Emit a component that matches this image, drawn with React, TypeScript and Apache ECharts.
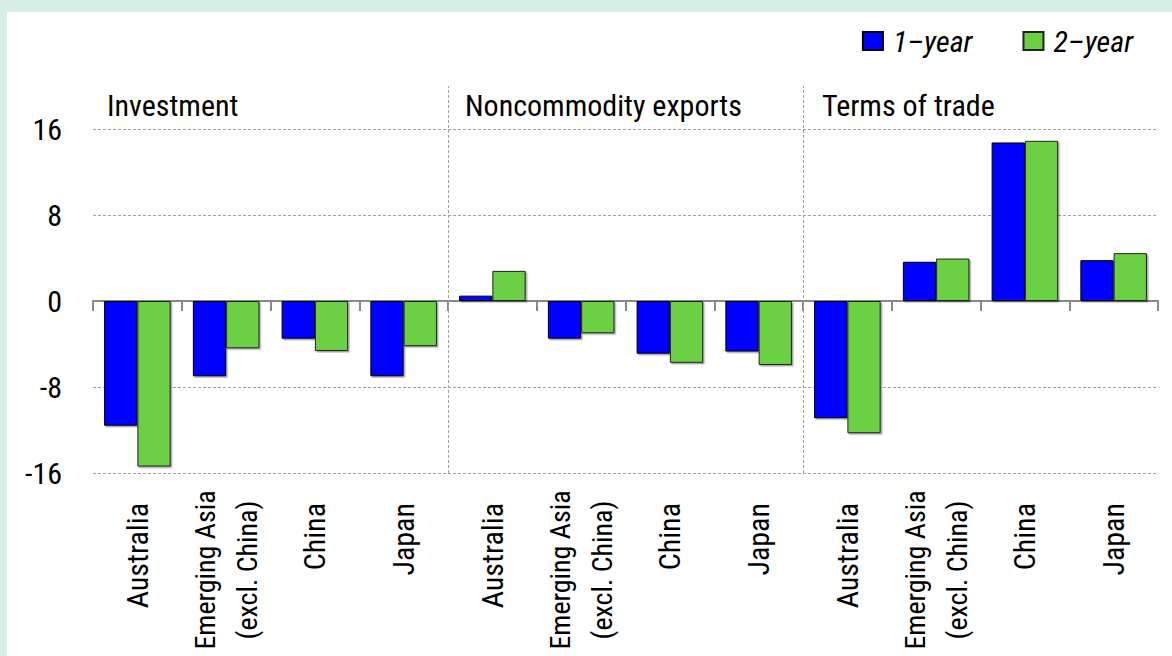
import React, { useEffect, useRef } from "react";
import * as echarts from "echarts";

const groups = ["Investment", "Noncommodity exports", "Terms of trade"];
const countries = ["Australia", "Emerging Asia\n(excl. China)", "China", "Japan"];
const seriesNames = ["1–year", "2–year"];
const oneYear = [-11.6, -7.0, -3.5, -7.0, 0.5, -3.5, -4.9, -4.7, -10.9, 3.65, 14.75, 3.8];
const twoYear = [-15.4, -4.4, -4.65, -4.2, 2.8, -3.0, -5.75, -5.95, -12.3, 3.95, 14.9, 4.45];
const yMin = -16;
const yMax = 20;
const yInterval = 8;
const groupBoundaries = [4, 8];

const FONT = "'Roboto Condensed', 'Noto Sans ExtraCondensed', 'Open Sans Condensed', 'Liberation Sans Narrow', 'DejaVu Sans Condensed', sans-serif";
const FS = 30;

// multi-line labels are centred line by line, like the original
const categories = groups.flatMap(() =>
  countries.map((c) =>
    c.includes("\n")
      ? { value: c, textStyle: { align: "center", fontSize: 28, lineHeight: 42, padding: [0, 134, 0, 0] } }
      : c
  )
);

export default function App() {
  const ref = useRef<HTMLDivElement>(null);
  useEffect(() => {
    if (!ref.current) return;
    const chart = echarts.init(ref.current, null, { renderer: "svg" });
    const gridLine = { color: "#a0a0a0", type: [3, 2], width: 1 };
    const shadow = { shadowColor: "rgba(0,0,0,0.35)", shadowOffsetX: 1.5, shadowOffsetY: 1.5, shadowBlur: 0 };
    chart.setOption({
      animation: false,
      backgroundColor: "#ffffff",
      textStyle: { fontFamily: FONT, color: "#000" },
      grid: { left: 86, right: 14, top: 74, bottom: 183, containLabel: false, outerBoundsMode: "none" },
      legend: {
        data: seriesNames,
        right: 34,
        top: 9,
        icon: "rect",
        itemWidth: 20,
        itemHeight: 18,
        itemGap: 50,
        textStyle: { fontSize: 30, fontStyle: "italic", color: "#000", fontFamily: FONT, padding: [0, 0, 0, 5] },
      },
      xAxis: [
        {
          type: "category",
          data: categories,
          position: "bottom",
          axisLine: { show: false, onZero: false },
          axisTick: { show: false },
          splitLine: { show: false },
          axisLabel: { rotate: 90, interval: 0, fontSize: FS, lineHeight: 42, margin: 30, color: "#000", fontFamily: FONT },
        },
        {
          type: "category",
          data: categories,
          position: "top",
          axisLine: { show: true, onZero: true, lineStyle: { color: "#888", width: 2 } },
          axisTick: { show: true, inside: true, length: 10, lineStyle: { color: "#888", width: 2 } },
          axisLabel: { show: false },
          splitLine: { show: false },
        },
        {
          type: "value",
          min: 0,
          max: categories.length,
          show: false,
        },
      ],
      yAxis: {
        type: "value",
        min: yMin,
        max: yMax,
        interval: yInterval,
        axisLine: { show: false },
        axisTick: { show: false },
        axisLabel: { fontSize: FS, color: "#000", margin: 31, showMaxLabel: false, fontFamily: FONT },
        splitLine: { show: true, showMaxLine: false, lineStyle: gridLine },
      },
      graphic: groups.map((g, i) => ({
        type: "text",
        left: [100, 458, 815][i],
        top: 78,
        style: { text: g, fontSize: FS, fill: "#000", fontFamily: FONT },
        silent: true,
      })),
      series: [
        {
          name: seriesNames[0],
          type: "bar",
          xAxisIndex: 0,
          yAxisIndex: 0,
          data: oneYear,
          barGap: "0%",
          barCategoryGap: "25%",
          itemStyle: { color: "#0000ff", borderColor: "#000", borderWidth: 1, ...shadow },
        },
        {
          name: seriesNames[1],
          type: "bar",
          xAxisIndex: 0,
          yAxisIndex: 0,
          data: twoYear,
          barGap: "0%",
          barCategoryGap: "25%",
          itemStyle: { color: "#6cd044", borderColor: "#222", borderWidth: 1, ...shadow },
        },
        {
          type: "line",
          xAxisIndex: 2,
          yAxisIndex: 0,
          data: [],
          markLine: {
            silent: true,
            symbol: ["none", "none"],
            label: { show: false },
            lineStyle: gridLine,
            data: groupBoundaries.map((b) => ({ xAxis: b })),
          },
        },
      ],
    });
    return () => chart.dispose();
  }, []);
  return (
    <div style={{ position: "fixed", left: 0, top: 0, width: 1172, height: 656, background: "#d8efe6" }}>
      <div ref={ref} style={{ position: "absolute", left: 7, top: 12, width: 1165, height: 644, background: "#fff" }} />
    </div>
  );
}
